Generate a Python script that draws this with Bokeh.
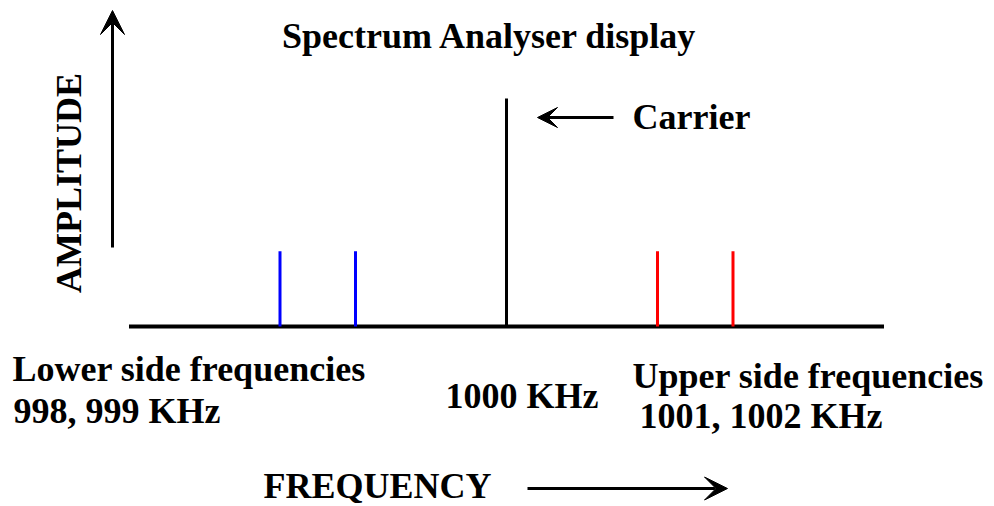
import math
from bokeh.plotting import figure
from bokeh.models import Range1d, Arrow, VeeHead
from bokeh.core.properties import value
from bokeh.embed import file_html
from bokeh.resources import INLINE

# ---- data ----
freq_khz = [998, 999, 1000, 1001, 1002]
slots = [2, 3, 5, 7, 8]                 # schematic position of each spectral line
amplitudes = [0.33, 0.33, 1.0, 0.33, 0.33]
line_colors = ["#0000ff", "#0000ff", "#000000", "#ff0000", "#ff0000"]
baseline_extent = [0, 10]

title_text = "Spectrum Analyser display"
carrier_text = "Carrier"
y_label = "AMPLITUDE"
x_label = "FREQUENCY"
lower_text = ["Lower side frequencies", "998, 999 KHz"]
upper_text = ["Upper side frequencies", "1001, 1002 KHz"]
centre_text = "1000 KHz"

# ---- layout calibration (pixels) ----
W, H = 994, 506
PX_SLOT = 75.5
SLOT0_X = 128.5
PX_AMP = 228
AMP0_Y = 326
TXT = 12   # text baseline correction (px)

x_start = -SLOT0_X / PX_SLOT
x_end = (W - SLOT0_X) / PX_SLOT
y_end = AMP0_Y / PX_AMP
y_start = (AMP0_Y - H) / PX_AMP


def dx(px):
    return (px - SLOT0_X) / PX_SLOT


def dy(py):
    return (AMP0_Y - py) / PX_AMP


p = figure(width=W, height=H,
           x_range=Range1d(x_start, x_end), y_range=Range1d(y_start, y_end),
           output_backend="svg", toolbar_location=None,
           x_axis_location=None, y_axis_location=None,
           min_border=0)
p.grid.visible = False
p.outline_line_color = None
p.background_fill_color = "white"
p.border_fill_color = "white"

# baseline
p.segment(x0=[baseline_extent[0]], y0=[0], x1=[baseline_extent[1]], y1=[0],
          line_color="black", line_width=4)

# spectral lines
p.segment(x0=slots, y0=[0] * len(slots), x1=slots, y1=amplitudes,
          line_color=line_colors, line_width=3)

FONT = value("Liberation Serif")
common = dict(text_font=FONT, text_font_style="bold", text_font_size="36px",
              text_color="black", text_baseline="alphabetic")

# title
p.text(x=[dx(489.5)], y=[dy(47 - TXT)], text=[title_text], text_align="center", **common)
# carrier label
p.text(x=[dx(632)], y=[dy(128 - TXT)], text=[carrier_text], text_align="left", **common)
# amplitude (rotated)
p.text(x=[dx(80 - TXT)], y=[dy(182.5)], text=[y_label], angle=math.pi / 2,
       text_align="center", **common)
# lower side
p.text(x=[dx(12), dx(13)], y=[dy(380 - TXT), dy(422 - TXT)], text=lower_text,
       text_align="left", **common)
# centre
p.text(x=[dx(445)], y=[dy(407 - TXT)], text=[centre_text], text_align="left", **common)
# upper side
p.text(x=[dx(632), dx(639)], y=[dy(387 - TXT), dy(427 - TXT)], text=upper_text,
       text_align="left", **common)
# frequency label
p.text(x=[dx(263)], y=[dy(497 - TXT)], text=[x_label], text_align="left", **common)

# arrows
p.add_layout(Arrow(end=VeeHead(size=24, fill_color="black", line_color="black"),
                   x_start=dx(112), y_start=dy(247), x_end=dx(112), y_end=dy(10),
                   line_color="black", line_width=3))
p.add_layout(Arrow(end=VeeHead(size=20, fill_color="black", line_color="black"),
                   x_start=dx(613), y_start=dy(117), x_end=dx(537), y_end=dy(117),
                   line_color="black", line_width=3))
p.add_layout(Arrow(end=VeeHead(size=23, fill_color="black", line_color="black"),
                   x_start=dx(527), y_start=dy(488), x_end=dx(727), y_end=dy(488),
                   line_color="black", line_width=3))

open("out.html", "w").write(file_html(p, INLINE))
